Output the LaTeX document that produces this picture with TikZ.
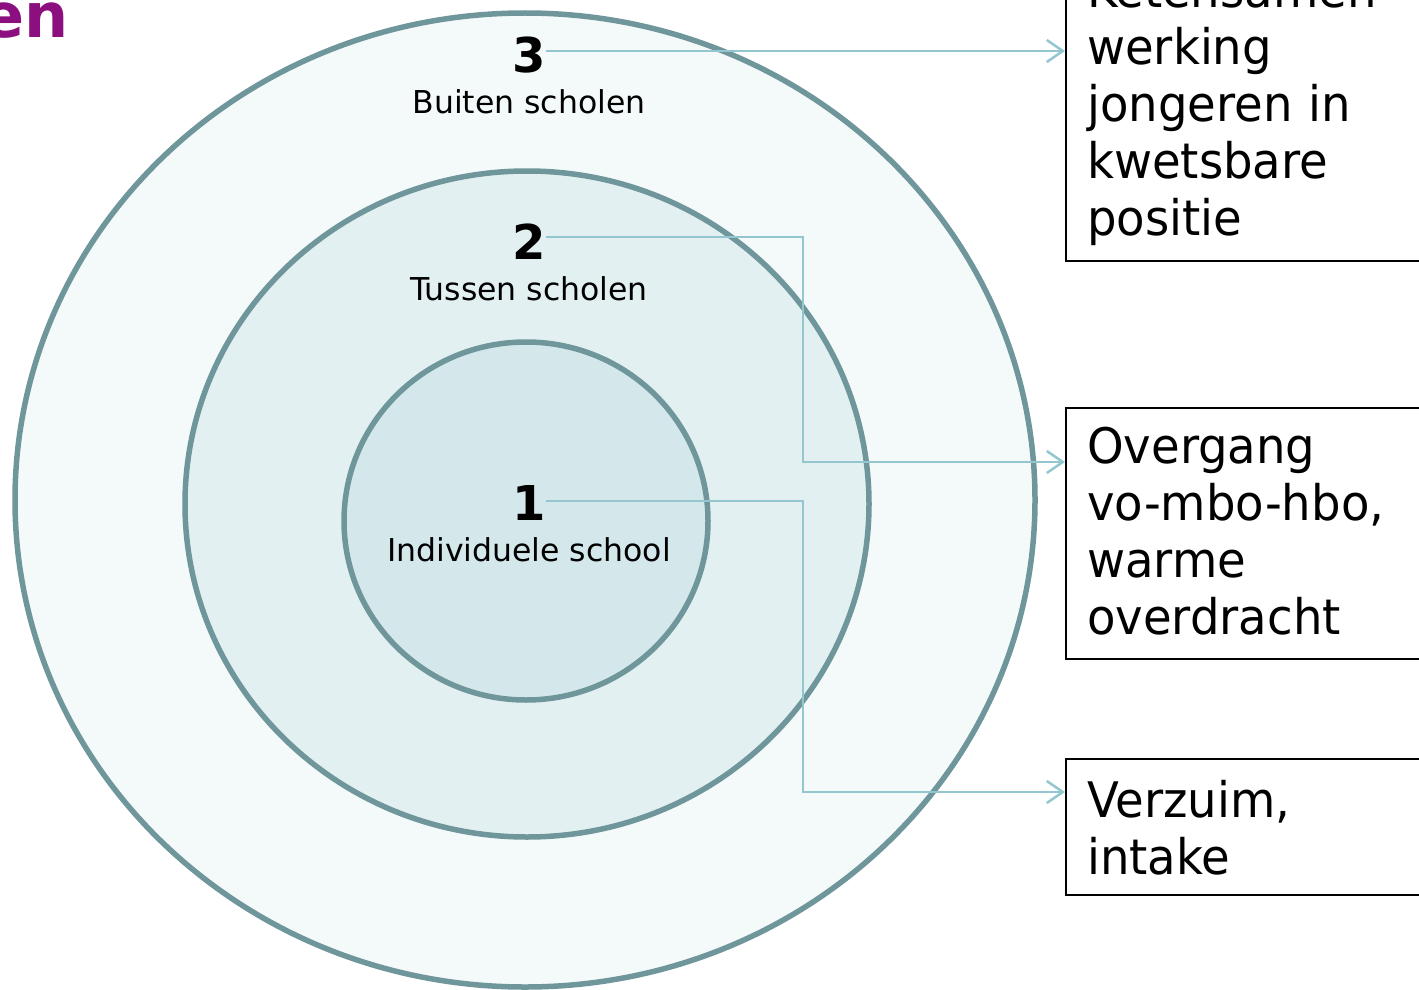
\documentclass[tikz,border=0pt]{standalone}
\usepackage{fontspec}
\setmainfont{DejaVu Sans}
\newfontfamily\boxfont[FakeStretch=0.95]{DejaVu Sans}
\usetikzlibrary{arrows.meta}
\definecolor{ringline}{HTML}{6F969B}
\definecolor{fillout}{HTML}{F4FAFA}
\definecolor{fillmid}{HTML}{E3F0F2}
\definecolor{fillin}{HTML}{D4E8EB}
\definecolor{arrowcol}{HTML}{93C6CF}
\definecolor{titlecol}{HTML}{8B0F7E}
\tikzset{
  ring/.style={draw=ringline, line width=5.5},
  numst/.style={font=\bfseries\fontsize{48}{48}\selectfont, inner sep=0, anchor=base},
  lblst/.style={font=\fontsize{31.5}{36}\selectfont, inner sep=0, anchor=base},
  boxst/.style={draw=black, line width=2, fill=white, inner sep=0, anchor=north west},
  boxtext/.style={font=\boxfont\fontsize{49}{57}\selectfont, inner sep=0, anchor=base west, text width=330, align=left},
  arr/.style={draw=arrowcol, line width=2.5, -{Straight Barb[length=16, width=22]}}
}
\begin{document}
\begin{tikzpicture}[x=1pt,y=-1pt]
\useasboundingbox (0,0) rectangle (1419,990);
\clip (0,0) rectangle (1419,990);
% rings
\draw[ring, fill=fillout] (525,500) ellipse [x radius=510, y radius=487];
\draw[ring, fill=fillmid] (527,504) ellipse [x radius=342, y radius=333];
\draw[ring, fill=fillin] (526,521) ellipse [x radius=182, y radius=179];
% title fragment
\node[font=\bfseries\fontsize{62}{62}\selectfont, text=titlecol, anchor=base east, inner sep=0] (title) at (69,38) {en};
% ring labels
\node[numst] (n3) at (529,73) {3};
\node[lblst] (l3) at (529,113) {Buiten scholen};
\node[numst] (n2) at (529,259) {2};
\node[lblst] (l2) at (529,300) {Tussen scholen};
\node[numst] (n1) at (529,520) {1};
\node[lblst] (l1) at (529,561) {Individuele school};
% boxes
\node[boxst, minimum width=420, minimum height=330] (b3) at (1065,-70) {};
\node[boxst, minimum width=420, minimum height=251] (b2) at (1065,407) {};
\node[boxst, minimum width=420, minimum height=136] (b1) at (1065,758) {};
\node[boxtext] (t3) at (1087,8) {Ketensamen\\werking\\jongeren in\\kwetsbare\\positie};
\node[boxtext] (t2) at (1087,463) {Overgang\\vo-mbo-hbo,\\warme\\overdracht};
\node[boxtext] (t1) at (1087,817) {Verzuim,\\intake};
% connectors
\coordinate (y3) at (0,51);
\coordinate (y2) at (0,237);
\coordinate (y1) at (0,501);
\coordinate (yb2) at (0,462);
\coordinate (yb1) at (0,792);
\coordinate (xm) at (803,0);
\draw[arr] (n3.east |- y3) -- (b3.west |- y3);
\draw[arr] (n2.east |- y2) -- (xm |- y2) -- (xm |- yb2) -- (b2.west |- yb2);
\draw[arr] (n1.east |- y1) -- (xm |- y1) -- (xm |- yb1) -- (b1.west |- yb1);
\end{tikzpicture}
\end{document}
